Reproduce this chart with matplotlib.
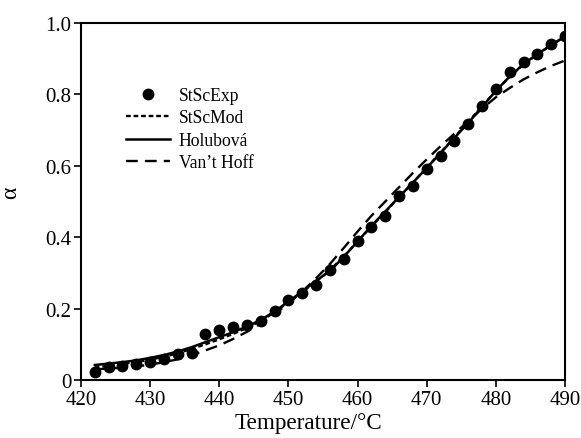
import numpy as np
import matplotlib
matplotlib.use('Agg')
import matplotlib.pyplot as plt

# experimental points
temp_exp = [422, 424, 426, 428, 430, 432, 434, 436, 438, 440, 442, 444, 446, 448,
            450, 452, 454, 456, 458, 460, 462, 464, 466, 468, 470, 472, 474, 476,
            478, 480, 482, 484, 486, 488, 490]
alpha_exp = [0.023, 0.036, 0.040, 0.045, 0.050, 0.060, 0.073, 0.076, 0.129, 0.140,
             0.148, 0.154, 0.166, 0.194, 0.225, 0.244, 0.266, 0.309, 0.339, 0.390,
             0.430, 0.460, 0.516, 0.543, 0.590, 0.628, 0.670, 0.717, 0.767, 0.815,
             0.864, 0.892, 0.913, 0.941, 0.963]

# model curves
temp_mod = [422, 424, 426, 428, 430, 432, 434, 436, 438, 440, 442, 444, 446, 448,
            450, 452, 454, 456, 458, 460, 462, 464, 466, 468, 470, 472, 474, 476,
            478, 480, 482, 484, 486, 488, 490]
alpha_stscmod = [0.035, 0.040, 0.045, 0.050, 0.057, 0.065, 0.075, 0.087, 0.100, 0.114,
                 0.129, 0.146, 0.165, 0.190, 0.218, 0.246, 0.276, 0.308, 0.346, 0.388,
                 0.430, 0.470, 0.512, 0.553, 0.595, 0.637, 0.680, 0.723, 0.767, 0.810,
                 0.850, 0.884, 0.912, 0.938, 0.963]
alpha_holubova = [0.042, 0.046, 0.050, 0.055, 0.062, 0.070, 0.080, 0.092, 0.106, 0.120,
                  0.134, 0.150, 0.168, 0.192, 0.220, 0.248, 0.278, 0.305, 0.345, 0.388,
                  0.432, 0.472, 0.513, 0.553, 0.594, 0.636, 0.678, 0.720, 0.765, 0.810,
                  0.850, 0.885, 0.913, 0.938, 0.962]
alpha_vanthoff = [0.030, 0.032, 0.035, 0.038, 0.043, 0.050, 0.058, 0.070, 0.083, 0.097,
                  0.115, 0.135, 0.158, 0.185, 0.215, 0.248, 0.285, 0.325, 0.370, 0.416,
                  0.460, 0.500, 0.540, 0.580, 0.618, 0.655, 0.690, 0.725, 0.760, 0.792,
                  0.818, 0.842, 0.862, 0.880, 0.895]

xticks = [420, 430, 440, 450, 460, 470, 480, 490]
yticks = [0, 0.2, 0.4, 0.6, 0.8, 1.0]
ytick_labels = ['0', '0.2', '0.4', '0.6', '0.8', '1.0']

plt.rcParams.update({'font.family': 'Liberation Serif', 'font.size': 13,
                     'axes.linewidth': 1.5})

fig = plt.figure(figsize=(5.81, 4.39), dpi=100)
ax = fig.add_axes([0.1394, 0.1321, 0.8331, 0.8132])

ax.plot(temp_exp, alpha_exp, 'o', color='black', markersize=7.5, label='StScExp', zorder=3)
ax.plot(temp_mod, alpha_stscmod, color='black', linewidth=1.7, dashes=(2, 1.2), label='StScMod')
ax.plot(temp_mod, alpha_holubova, color='black', linewidth=1.8, linestyle='-', label='Holubová')
ax.plot(temp_mod, alpha_vanthoff, color='black', linewidth=1.7, dashes=(5, 3), label='Van\u2019t Hoff')

ax.set_xlim(420, 490)
ax.set_ylim(0, 1.0)
ax.set_xticks(xticks)
ax.set_yticks(yticks)
ax.set_yticklabels(ytick_labels)
ax.tick_params(direction='out', length=5, width=1.2, labelsize=15, pad=2)
ax.set_xlabel('Temperature/\u00b0C', fontsize=16.7)
ax.set_ylabel('\u03b1', fontsize=17)
ax.xaxis.set_label_coords(0.47, -0.09)
ax.yaxis.set_label_coords(-0.124, 0.527)

ax.legend(loc='upper left', bbox_to_anchor=(0.078, 0.84), frameon=False, fontsize=12.7,
          handlelength=2.5, handletextpad=0.5, labelspacing=0.3, borderaxespad=0)

fig.savefig('out.png', dpi=100)
